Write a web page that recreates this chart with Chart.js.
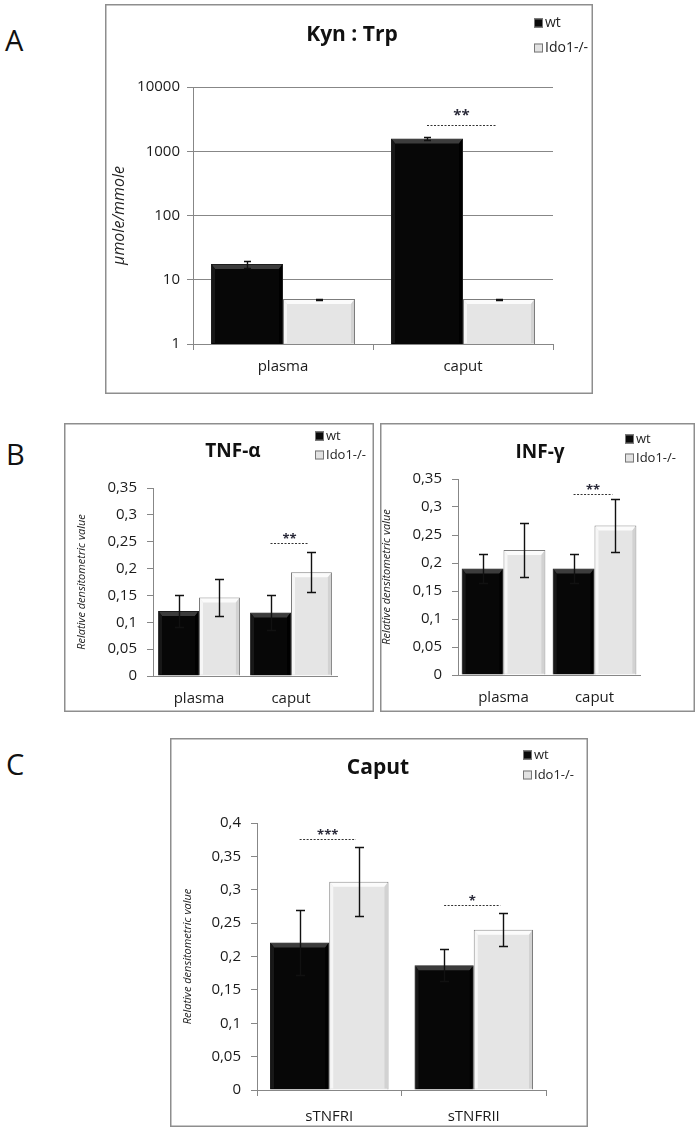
<!DOCTYPE html>
<html>
<head>
<meta charset="utf-8">
<script src="https://cdn.jsdelivr.net/npm/chart.js@4.4.1/dist/chart.umd.min.js"></script>
<style>
  body { margin: 0; background: #fff; }
  #page { position: relative; width: 696px; height: 1133px; font-family: "Open Sans", sans-serif; overflow: hidden; }
  canvas { position: absolute; }
  .letter { position: absolute; font-size: 29px; line-height: 1; color: #111; }
</style>
</head>
<body>
<div id="page">
  <div class="letter" style="left:5px;top:25px">A</div>
  <div class="letter" style="left:6px;top:439px">B</div>
  <div class="letter" style="left:6px;top:749px">C</div>
  <canvas id="kyn-trp" width="488" height="390" style="left:105px;top:4px"></canvas>
  <canvas id="tnf-alpha" width="310" height="289" style="left:64px;top:423px"></canvas>
  <canvas id="inf-gamma" width="315" height="289" style="left:380px;top:423px"></canvas>
  <canvas id="caput" width="418" height="389" style="left:170px;top:738px"></canvas>
</div>
<script>
const AXIS = '#878787';
const TEXT = '#1b1b1b';
const FONT = '"Open Sans", sans-serif';
const seriesNames = ['wt', 'Ido1-/-'];

// A - Kyn : Trp (log scale)
const kynTrpCats = ['plasma', 'caput'];
const kynTrpWt = [17.6, 1580];
const kynTrpWtErr = [2.3, 60];
const kynTrpKo = [5.0, 5.0];
const kynTrpKoErr = [0.08, 0.08];
const kynTrpTicks = [1, 10, 100, 1000, 10000];
const kynTrpSigCat = [1];
const kynTrpSigAt = [2570];
const kynTrpSigMark = ['**'];

// B - cytokines
const cytoCats = ['plasma', 'caput'];
const tnfWt = [0.121, 0.118];
const tnfWtErr = [0.03, 0.032];
const tnfKo = [0.146, 0.193];
const tnfKoErr = [0.035, 0.037];
const tnfSigCat = [1];
const tnfSigAt = [0.248];
const tnfSigMark = ['**'];

const infWt = [0.19, 0.19];
const infWtErr = [0.026, 0.026];
const infKo = [0.223, 0.267];
const infKoErr = [0.048, 0.048];
const infSigCat = [1];
const infSigAt = [0.323];
const infSigMark = ['**'];

// C - Caput receptors
const caputCats = ['sTNFRI', 'sTNFRII'];
const caputWt = [0.221, 0.187];
const caputWtErr = [0.049, 0.024];
const caputKo = [0.312, 0.24];
const caputKoErr = [0.052, 0.025];
const caputSigCat = [0, 1];
const caputSigAt = [0.376, 0.277];
const caputSigMark = ['***', '*'];

function commaLabel(v) {
  return String(+Number(v).toFixed(2)).replace('.', ',');
}

function bevel(ctx, bar, isWt) {
  const x0 = bar.x - bar.width / 2, x1 = bar.x + bar.width / 2;
  const y0 = bar.y, y1 = bar.base;
  const b = 4;
  ctx.save();
  ctx.fillStyle = isWt ? '#3c3c3c' : '#fbfbfb';
  ctx.beginPath();
  ctx.moveTo(x0 + 1, y0 + 1); ctx.lineTo(x1 - 1, y0 + 1);
  ctx.lineTo(x1 - b, y0 + b + 1); ctx.lineTo(x0 + b, y0 + b + 1);
  ctx.fill();
  ctx.fillStyle = isWt ? '#181818' : '#f6f6f6';
  ctx.beginPath();
  ctx.moveTo(x0 + 1, y0 + 1); ctx.lineTo(x0 + b, y0 + b + 1);
  ctx.lineTo(x0 + b, y1 - 1); ctx.lineTo(x0 + 1, y1 - 1);
  ctx.fill();
  ctx.fillStyle = isWt ? '#000' : '#d2d2d2';
  ctx.beginPath();
  ctx.moveTo(x1 - 1, y0 + 1); ctx.lineTo(x1 - b, y0 + b + 1);
  ctx.lineTo(x1 - b, y1 - 1); ctx.lineTo(x1 - 1, y1 - 1);
  ctx.fill();
  ctx.restore();
}

function panelDecor(cfg) {
  return {
    id: 'panelDecor',
    afterDatasetsDraw(chart) {
      const ctx = chart.ctx;
      const y = chart.scales.y;
      const metas = [chart.getDatasetMeta(0), chart.getDatasetMeta(1)];
      metas.forEach((meta, di) => meta.data.forEach(bar => bevel(ctx, bar, di === 0)));

      // error bars
      ctx.save();
      ctx.strokeStyle = '#111';
      ctx.lineWidth = 1.4;
      metas.forEach((meta, di) => {
        const vals = chart.data.datasets[di].data;
        meta.data.forEach((bar, i) => {
          const e = cfg.errors[di][i];
          const top = Math.round(y.getPixelForValue(vals[i] + e)) + 0.5;
          const bot = Math.round(y.getPixelForValue(vals[i] - e)) + 0.5;
          const x = Math.round(bar.x) + 0.5;
          ctx.beginPath();
          ctx.moveTo(x, top); ctx.lineTo(x, bot);
          ctx.moveTo(x - cfg.cap, top); ctx.lineTo(x + cfg.cap, top);
          ctx.moveTo(x - cfg.cap, bot); ctx.lineTo(x + cfg.cap, bot);
          ctx.stroke();
        });
      });
      ctx.restore();

      // significance marks
      ctx.save();
      cfg.sigCat.forEach((c, k) => {
        const xa = metas[0].data[c].x, xb = metas[1].data[c].x - 3;
        const ly = Math.round(y.getPixelForValue(cfg.sigAt[k])) + 0.5;
        ctx.strokeStyle = '#333';
        ctx.lineWidth = 1;
        ctx.setLineDash([2, 1.5]);
        ctx.beginPath();
        ctx.moveTo(xa, ly); ctx.lineTo(xb, ly);
        ctx.stroke();
        ctx.setLineDash([]);
        ctx.fillStyle = '#2b2b3a';
        ctx.font = 'bold ' + cfg.starSize + 'px ' + FONT;
        ctx.textAlign = 'center';
        ctx.textBaseline = 'alphabetic';
        ctx.fillText(cfg.sigMark[k], (xa + xb) / 2, ly - cfg.starGap);
      });
      ctx.restore();
    },
    afterDraw(chart) {
      const ctx = chart.ctx;
      const w = chart.width, h = chart.height;
      ctx.save();
      // frame
      ctx.strokeStyle = '#8e8e8e';
      ctx.lineWidth = 1.5;
      ctx.strokeRect(0.75, 0.75, w - 1.5, h - 1.5);
      // title
      ctx.fillStyle = '#111';
      ctx.font = 'bold ' + cfg.titleSize + 'px ' + FONT;
      ctx.textAlign = 'center';
      ctx.textBaseline = 'middle';
      ctx.fillText(cfg.title, cfg.titleX, cfg.titleY);
      // legend
      ctx.font = cfg.legendSize + 'px ' + FONT;
      ctx.textAlign = 'left';
      seriesNames.forEach((name, i) => {
        const ly = cfg.legendY[i];
        ctx.fillStyle = i === 0 ? '#0a0a0a' : '#e2e2e2';
        ctx.fillRect(cfg.legendX, ly - 4.5, 9, 9);
        ctx.strokeStyle = '#777';
        ctx.lineWidth = 1;
        ctx.strokeRect(cfg.legendX + 0.5, ly - 4, 8, 8);
        ctx.fillStyle = '#222';
        ctx.fillText(name, cfg.legendX + 11, ly);
      });
      ctx.restore();
    }
  };
}

function makeChart(id, cfg) {
  const yScale = {
    min: cfg.yMin, max: cfg.yMax,
    border: { color: AXIS, width: 1 },
    grid: { color: AXIS, drawOnChartArea: cfg.logScale === true, tickLength: 6 },
    ticks: {
      color: TEXT, padding: cfg.yPad, font: { family: FONT, size: cfg.tickSize },
      callback: cfg.logScale ? v => String(v) : v => commaLabel(v)
    },
    title: {
      display: true, text: cfg.yTitle, color: '#222',
      font: { family: FONT, size: cfg.yTitleSize, style: 'italic' },
      padding: { top: cfg.yTitlePad, bottom: 0 }
    },
    afterFit: s => { s.width = cfg.yWidth; }
  };
  if (cfg.logScale) {
    yScale.type = 'logarithmic';
    yScale.afterBuildTicks = s => { s.ticks = cfg.yTicks.map(v => ({ value: v })); };
  } else {
    yScale.ticks.stepSize = 0.05;
  }

  return new Chart(document.getElementById(id), {
    type: 'bar',
    data: {
      labels: cfg.cats,
      datasets: [
        { label: seriesNames[0], data: cfg.wt, backgroundColor: '#070707', borderColor: '#1e1e1e', borderWidth: 1 },
        { label: seriesNames[1], data: cfg.ko, backgroundColor: '#e5e5e5', borderColor: '#7c7c7c', borderWidth: 1 }
      ]
    },
    options: {
      responsive: false,
      animation: false,
      devicePixelRatio: 1,
      categoryPercentage: cfg.catPct,
      barPercentage: 1,
      layout: { padding: { left: 0, top: cfg.padTop, right: cfg.padRight, bottom: 0 } },
      plugins: { legend: { display: false }, tooltip: { enabled: false } },
      scales: {
        x: {
          border: { color: AXIS, width: 1 },
          grid: { display: true, drawOnChartArea: false, drawTicks: cfg.xTicks, tickLength: 6, color: AXIS },
          ticks: { color: TEXT, padding: cfg.xPad, font: { family: FONT, size: cfg.catSize } },
          afterFit: s => { s.height = cfg.xHeight; }
        },
        y: yScale
      }
    },
    plugins: [panelDecor(cfg)]
  });
}

makeChart('kyn-trp', {
  cats: kynTrpCats, wt: kynTrpWt, ko: kynTrpKo, errors: [kynTrpWtErr, kynTrpKoErr],
  logScale: true, yMin: 1, yMax: 10000, yTicks: kynTrpTicks,
  yTitle: 'μmole/mmole', yTitleSize: 16, yTitlePad: 5, yWidth: 88, yPad: 7, tickSize: 15,
  xTicks: true, xPad: 8, xHeight: 50, catSize: 15, catPct: 0.8,
  padTop: 83, padRight: 40, cap: 3.5,
  sigCat: kynTrpSigCat, sigAt: kynTrpSigAt, sigMark: kynTrpSigMark, starSize: 15, starGap: 6,
  title: 'Kyn : Trp', titleSize: 21, titleX: 247, titleY: 31,
  legendX: 429, legendY: [19, 44], legendSize: 14
});

makeChart('tnf-alpha', {
  cats: cytoCats, wt: tnfWt, ko: tnfKo, errors: [tnfWtErr, tnfKoErr],
  yMin: 0, yMax: 0.35,
  yTitle: 'Relative densitometric value', yTitleSize: 11, yTitlePad: 11, yWidth: 89, yPad: 10, tickSize: 15,
  xTicks: false, xPad: 14, xHeight: 36, catSize: 15, catPct: 0.89,
  padTop: 65, padRight: 37, cap: 4.5,
  sigCat: tnfSigCat, sigAt: tnfSigAt, sigMark: tnfSigMark, starSize: 13, starGap: 1,
  title: 'TNF-α', titleSize: 19, titleX: 169, titleY: 29,
  legendX: 251, legendY: [13, 32], legendSize: 13
});

makeChart('inf-gamma', {
  cats: cytoCats, wt: infWt, ko: infKo, errors: [infWtErr, infKoErr],
  yMin: 0, yMax: 0.35,
  yTitle: 'Relative densitometric value', yTitleSize: 11, yTitlePad: 0, yWidth: 78, yPad: 10, tickSize: 15,
  xTicks: false, xPad: 14, xHeight: 37, catSize: 15, catPct: 0.92,
  padTop: 56, padRight: 55, cap: 4.5,
  sigCat: infSigCat, sigAt: infSigAt, sigMark: infSigMark, starSize: 13, starGap: 1,
  title: 'INF-γ', titleSize: 19, titleX: 160, titleY: 30,
  legendX: 245, legendY: [16, 35], legendSize: 13
});

makeChart('caput', {
  cats: caputCats, wt: caputWt, ko: caputKo, errors: [caputWtErr, caputKoErr],
  yMin: 0, yMax: 0.4,
  yTitle: 'Relative densitometric value', yTitleSize: 11, yTitlePad: 11, yWidth: 87, yPad: 10, tickSize: 15,
  xTicks: true, xPad: 12, xHeight: 37, catSize: 15, catPct: 0.82,
  padTop: 85, padRight: 42, cap: 4.5,
  sigCat: caputSigCat, sigAt: caputSigAt, sigMark: caputSigMark, starSize: 13, starGap: 1,
  title: 'Caput', titleSize: 21, titleX: 208, titleY: 30,
  legendX: 353, legendY: [17, 37], legendSize: 13
});
</script>
</body>
</html>
